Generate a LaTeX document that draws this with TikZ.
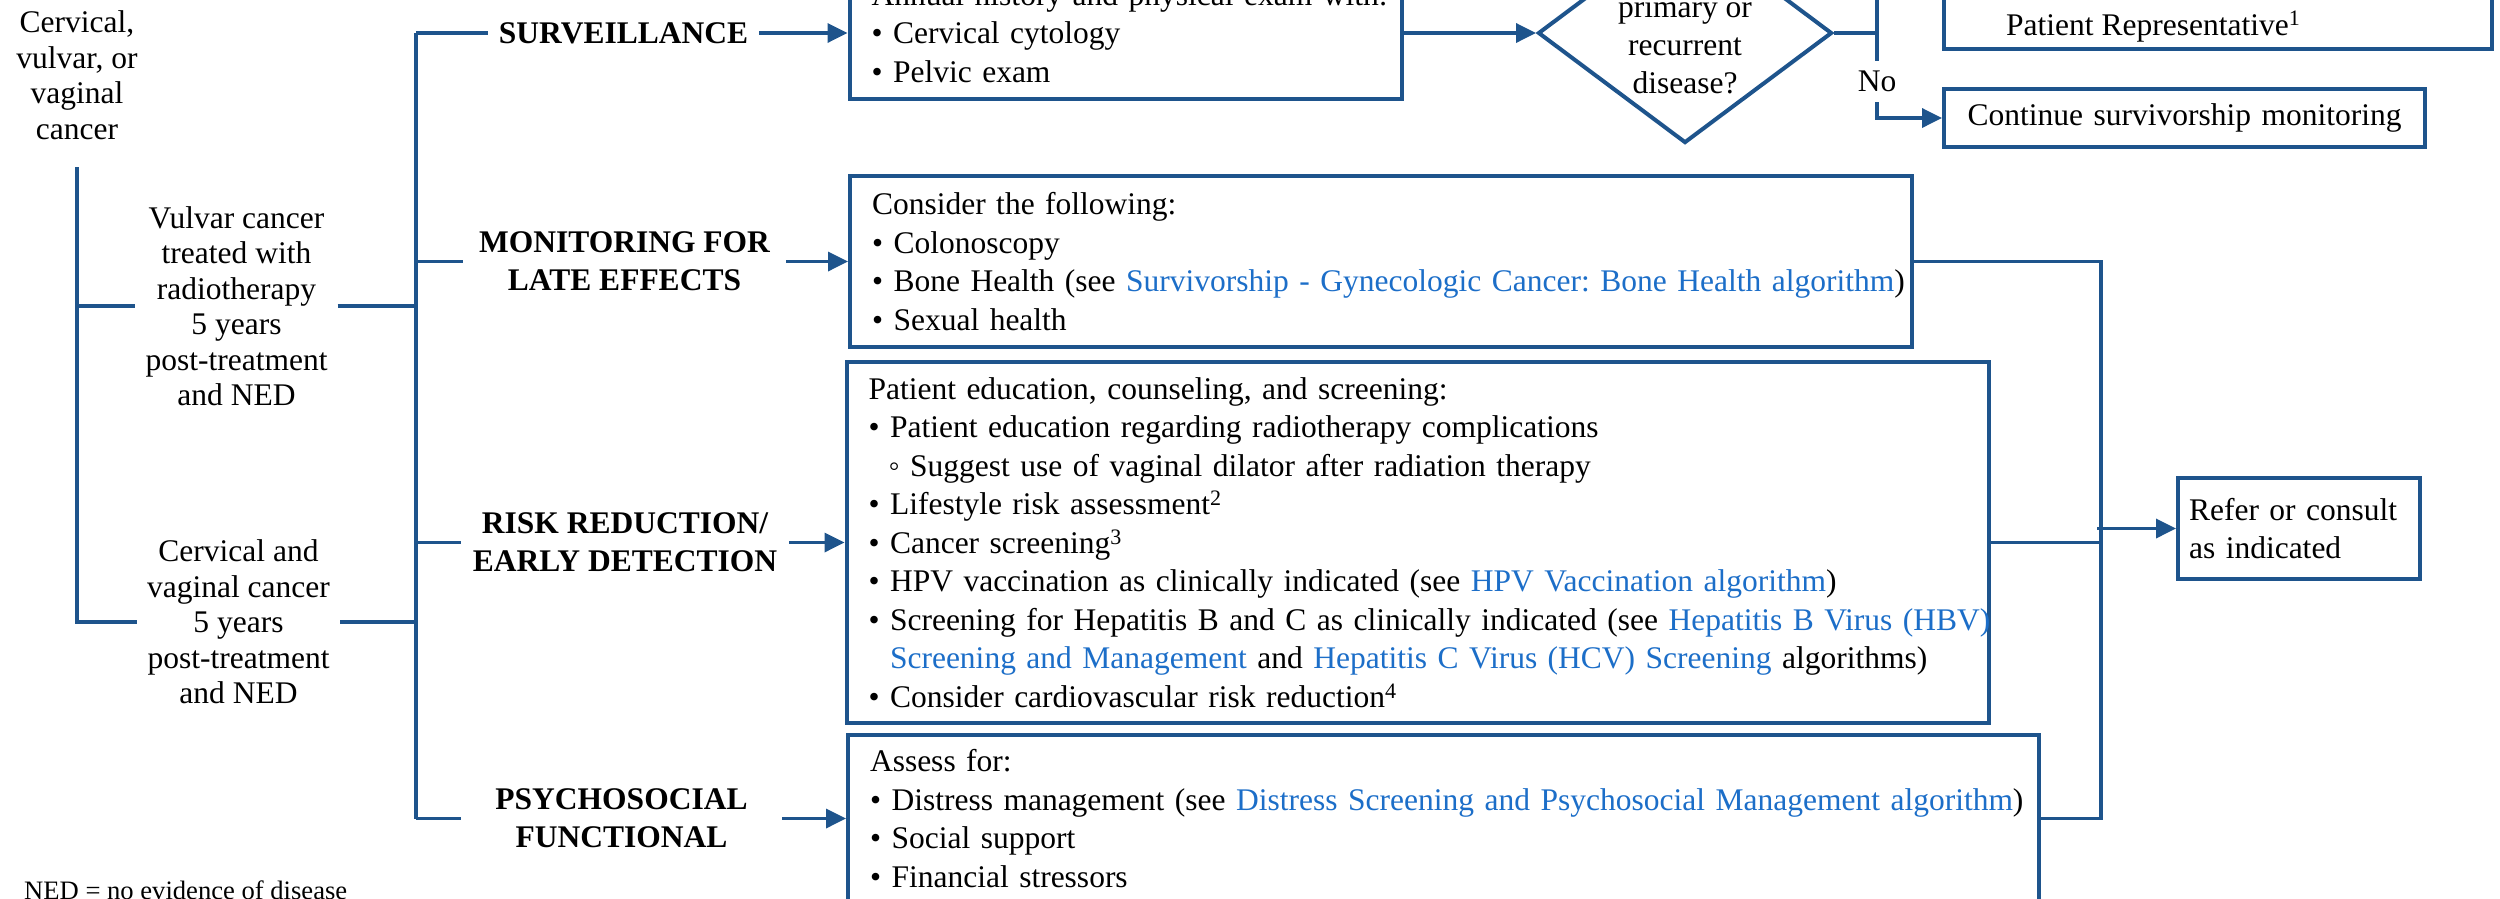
\documentclass[tikz,border=0pt]{standalone}
\usepackage{fontspec}
\setmainfont{Liberation Serif}
\usetikzlibrary{arrows.meta,shapes.geometric}
\frenchspacing
\definecolor{flow}{RGB}{30,84,140}
\definecolor{linkblue}{RGB}{28,110,200}
\newcommand{\lnk}[1]{\textcolor{linkblue}{#1}}
\newcommand{\bul}{\textbullet\ }
\newcommand{\subbul}{\hspace*{20pt}\char"25E6\ }
\newcommand{\contind}{\phantom{\textbullet\ }}
\begin{document}
\begin{tikzpicture}[x=1pt,y=-1pt,
  every node/.style={font=\fontsize{31.5}{38.5}\selectfont, text=black},
  conn/.style={draw=flow, line width=3.5pt},
  arr/.style={conn, -{Triangle[length=20pt,width=19pt]}},
  pbox/.style={draw=flow, line width=4pt, anchor=west, align=left, inner xsep=22pt, inner ysep=0pt},
  stage/.style={font=\fontsize{31.5}{38}\selectfont\bfseries, align=center, inner xsep=0pt},
  group/.style={font=\fontsize{31.5}{35.5}\selectfont, align=center, inner xsep=10pt}
]
\useasboundingbox (0,0) rectangle (2500,898);
\clip (0,0) rectangle (2500,898);

% patient groups
\node[group] (cancer) at (77,75) {Cervical,\\vulvar, or\\vaginal\\cancer};
\node[group] (vulvar) at (236.5,306) {Vulvar cancer\\treated with\\radiotherapy\\5 years\\post-treatment\\and NED};
\node[group] (cerv) at (238.5,622) {Cervical and\\vaginal cancer\\5 years\\post-treatment\\and NED};
\coordinate (ltop) at (77,167);
\draw[conn] (ltop) |- (vulvar.west);
\draw[conn] (ltop) |- (cerv.west);

% survivorship domains
\node[stage, minimum width=271pt] (surv) at (623.5,33) {SURVEILLANCE};
\node[stage, minimum width=323pt] (mon) at (624.5,261.5) {MONITORING FOR\\LATE EFFECTS};
\node[stage, minimum width=328pt] (risk) at (625,542.5) {RISK REDUCTION/\\EARLY DETECTION};
\node[stage, minimum width=321pt] (psych) at (621.5,818.5) {PSYCHOSOCIAL\\FUNCTIONAL};

\coordinate (sptop) at (416,33);
\coordinate (spbot) at (416,818.5);
\draw[conn] (sptop) -- (spbot);
\draw[conn] (vulvar.east) -- (vulvar.east -| sptop);
\draw[conn] (cerv.east) -- (cerv.east -| sptop);
\draw[conn] (sptop) -- (surv.west);
\draw[conn] (mon.west -| sptop) -- (mon.west);
\draw[conn] (risk.west -| sptop) -- (risk.west);
\draw[conn] (spbot) -- (psych.west);

% content boxes (each line kept on one row)
\node[pbox, text width=508.5pt, minimum height=132pt] (survbox) at (847.5,33)
  {\mbox{Annual history and physical exam with:}\\\bul Cervical cytology\\\bul Pelvic exam};
\node[pbox, text width=1018pt, minimum height=171pt] (monbox) at (848,261.5)
  {Consider the following:\\\bul Colonoscopy\\
   \mbox{\bul Bone Health (see \lnk{Survivorship - Gynecologic Cancer: Bone Health algorithm})}\\
   \bul Sexual health};
\node[pbox, text width=1098.5pt, minimum height=361pt] (riskbox) at (844.5,542.5)
  {Patient education, counseling, and screening:\\
   \mbox{\bul Patient education regarding radiotherapy complications}\\
   \mbox{\subbul Suggest use of vaginal dilator after radiation therapy}\\
   \bul Lifestyle risk assessment\textsuperscript{2}\\
   \bul Cancer screening\textsuperscript{3}\\
   \mbox{\bul HPV vaccination as clinically indicated (see \lnk{HPV Vaccination algorithm})}\\
   \mbox{\bul Screening for Hepatitis B and C as clinically indicated (see \lnk{Hepatitis B Virus (HBV)}}\\
   \mbox{\contind\lnk{Screening and Management} and \lnk{Hepatitis C Virus (HCV) Screening} algorithms)}\\
   \bul Consider cardiovascular risk reduction\textsuperscript{4}};
\node[pbox, text width=1147pt, minimum height=167pt] (psychbox) at (846,818.5)
  {Assess for:\\
   \mbox{\bul Distress management (see \lnk{Distress Screening and Psychosocial Management algorithm})}\\
   \bul Social support\\
   \bul Financial stressors};

\draw[arr] (surv.east) -- (survbox.west);
\draw[arr] (mon.east) -- (monbox.west);
\draw[arr] (risk.east) -- (riskbox.west);
\draw[arr] (psych.east) -- (psychbox.west);

% decision
\node[diamond, draw=flow, line width=4pt, minimum width=294pt, minimum height=220pt, inner sep=0pt] (dia) at (1685,33) {};
\node[align=center, font=\fontsize{31.5}{38}\selectfont] (diatext) at (1685,45) {primary or\\recurrent\\disease?};
\draw[arr] (survbox.east) -- (dia.west);

\node[draw=flow, line width=4pt, anchor=south west, minimum width=548pt, minimum height=160pt, inner sep=0pt] (toprbox) at (1942,51) {};
\node[anchor=base west, inner sep=0pt] (toprtext) at (2006,35) {Patient Representative\textsuperscript{1}};
\node[pbox, align=center, inner xsep=10pt, text width=461pt, minimum height=58pt] (contbox) at (1942,118)
  {Continue survivorship monitoring};

\coordinate (yn) at (1877,33);
\coordinate (yestop) at (1877,-60);
\draw[conn] (dia.east) -- (yn) -- (yestop);
\node[inner xsep=0pt, inner ysep=10pt] (no) at (1877,81.5) {No};
\draw[conn] (yn) -- (no.north);
\draw[arr] (no.south) |- (contbox.west);

% referral
\node[pbox, inner xsep=11pt, text width=220pt, minimum height=101pt] (refer) at (2176,528.5)
  {Refer or consult\\as indicated};
\draw[conn] (monbox.east) -| ([xshift=60pt]psychbox.east) -- (psychbox.east);
\draw[conn] (riskbox.east) -- ([xshift=110pt]riskbox.east);
\draw[arr] ([xshift=-79pt]refer.west) -- (refer.west);

\node[anchor=west, inner sep=0pt, font=\fontsize{26.6}{30}\selectfont] (ned) at (24,890) {NED = no evidence of disease};
\end{tikzpicture}
\end{document}
